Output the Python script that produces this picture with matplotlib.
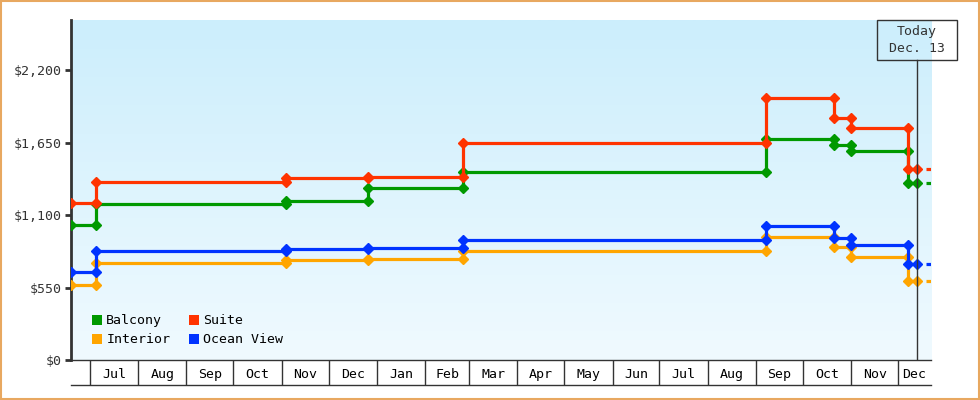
import matplotlib
matplotlib.use("Agg")
import matplotlib.pyplot as plt
import matplotlib.dates as mdates
import matplotlib.transforms as mtransforms
from matplotlib.patches import Patch, Rectangle
from matplotlib.lines import Line2D
from matplotlib.ticker import FixedLocator, FixedFormatter
import numpy as np
from datetime import datetime, timedelta

# === DATA ===
change_dates = ["2012-06-19", "2012-07-05", "2012-11-04", "2012-12-26", "2013-02-25",
                "2013-09-07", "2013-10-21", "2013-11-01", "2013-12-07"]
today = "2013-12-13"
x_start, x_end = "2012-06-19", "2013-12-22"

balcony = [1024, 1183, 1204, 1302, 1423, 1674, 1631, 1585, 1340]
suite = [1191, 1350, 1381, 1385, 1646, 1985, 1833, 1758, 1449]
interior = [571, 733, 759, 764, 827, 931, 855, 779, 599]
ocean_view = [665, 827, 844, 852, 910, 1019, 923, 872, 726]

y_ticks = [0, 550, 1100, 1650, 2200]
y_labels = ["$0", "$550", "$1,100", "$1,650", "$2,200"]

# === STYLE ===
FONT = "DejaVu Sans Mono"
plt.rcParams["font.family"] = FONT
plt.rcParams["font.size"] = 9.5
DARK = "#333333"
colors = {"Balcony": "#009900", "Suite": "#ff3300", "Interior": "#ffa500", "Ocean View": "#0033ff"}

to_dt = lambda s: datetime.strptime(s, "%Y-%m-%d")
dates = [to_dt(d) for d in change_dates]
t_today = to_dt(today)
t0, t1 = to_dt(x_start), to_dt(x_end)

fig = plt.figure(figsize=(9.8, 4.0), dpi=100)
ax = fig.add_axes([71 / 980, 40 / 400, 860 / 980, 340 / 400])
ax.set_xlim(t0, t1)
ax.set_ylim(0, 2580)

# gradient background
grad = np.linspace(0, 1, 256)[:, None]
c_top = np.array([204, 238, 252]) / 255
c_bot = np.array([240, 250, 255]) / 255
img = c_top[None, None, :] * (1 - grad[:, :, None]) + c_bot[None, None, :] * grad[:, :, None]
ax.imshow(img, extent=[0, 1, 0, 1], transform=ax.transAxes, aspect="auto", zorder=0)


def step_points(vals):
    xs, ys = [dates[0]], [vals[0]]
    for i in range(1, len(dates)):
        xs += [dates[i], dates[i]]
        ys += [vals[i - 1], vals[i]]
    xs.append(t_today)
    ys.append(vals[-1])
    return xs, ys


series = [("Interior", interior), ("Balcony", balcony), ("Ocean View", ocean_view), ("Suite", suite)]
for name, vals in series:
    xs, ys = step_points(vals)
    ax.plot(xs, ys, color=colors[name], lw=2.3, marker="D", ms=5.5, zorder=3)
    # forward-looking stub at the right edge
    ax.plot([t_today + timedelta(days=6), t1], [vals[-1]] * 2,
            color=colors[name], lw=2.3, zorder=3, solid_capstyle="butt")

# y axis
ax.set_yticks(y_ticks)
ax.set_yticklabels(y_labels, fontsize=9.5, color=DARK)
ax.tick_params(axis="y", direction="out", length=4, width=2, color=DARK, pad=3)
for s in ["top", "right"]:
    ax.spines[s].set_visible(False)
ax.spines["left"].set_color(DARK)
ax.spines["left"].set_linewidth(2)
ax.spines["bottom"].set_color(DARK)
ax.spines["bottom"].set_linewidth(1)

# x axis month cells: separators at month starts, labels centred in the visible part
month_starts = [datetime(y, m, 1) for y in (2012, 2013) for m in range(1, 13)]
month_starts = [d for d in month_starts if t0 <= d <= t1]
edges = [t0] + month_starts + [t1]
mids, names = [], []
for a, b in zip(edges[:-1], edges[1:]):
    if (b - a).days >= 15:
        mids.append(mdates.date2num(a + (b - a) / 2))
        names.append(a.strftime("%b") if a.day == 1 else b.strftime("%b"))
ax.xaxis.set_major_locator(FixedLocator(mdates.date2num(month_starts)))
ax.xaxis.set_major_formatter(plt.NullFormatter())
ax.xaxis.set_minor_locator(FixedLocator(mids))
ax.xaxis.set_minor_formatter(FixedFormatter(names))
ax.tick_params(axis="x", which="major", direction="out", length=18, width=1, color=DARK)
ax.tick_params(axis="x", which="minor", length=0, pad=6, labelsize=9.5, labelcolor="black")
ax.add_line(Line2D([0, 1], [-25 / 340, -25 / 340], transform=ax.transAxes,
                   color=DARK, lw=1, clip_on=False))

# today marker
trans = mtransforms.blended_transform_factory(ax.transData, ax.transAxes)
box_h = 40 / 340
ax.add_line(Line2D([t_today, t_today], [0, 1 - box_h], transform=trans, color=DARK, lw=1, zorder=4))
half_w = timedelta(days=40 / 1.558)
ax.add_patch(Rectangle((mdates.date2num(t_today - half_w), 1 - box_h), 80 / 1.558, box_h,
                       transform=trans, fill=False, edgecolor=DARK, lw=1, clip_on=False, zorder=4))
ax.text(t_today, 1 - box_h / 2, "Today\nDec. 13", transform=trans, ha="center", va="center",
        fontsize=9.5, color=DARK, linespacing=1.35, zorder=5)

# legend
handles = [Patch(facecolor=colors[n], edgecolor="none", label=n)
           for n in ["Balcony", "Interior", "Suite", "Ocean View"]]
ax.legend(handles=handles, loc="lower left", ncol=2, frameon=False, fontsize=9.5,
          handlelength=0.8, handleheight=0.8, handletextpad=0.3, columnspacing=1.4,
          labelspacing=0.45, bbox_to_anchor=(0.018, 0.025), borderaxespad=0)

# outer border
fig.patches.append(Rectangle((0.001, 0.002), 0.998, 0.996, transform=fig.transFigure,
                             fill=False, edgecolor="#e8a860", lw=1.5))

fig.savefig("out.png", dpi=100)
